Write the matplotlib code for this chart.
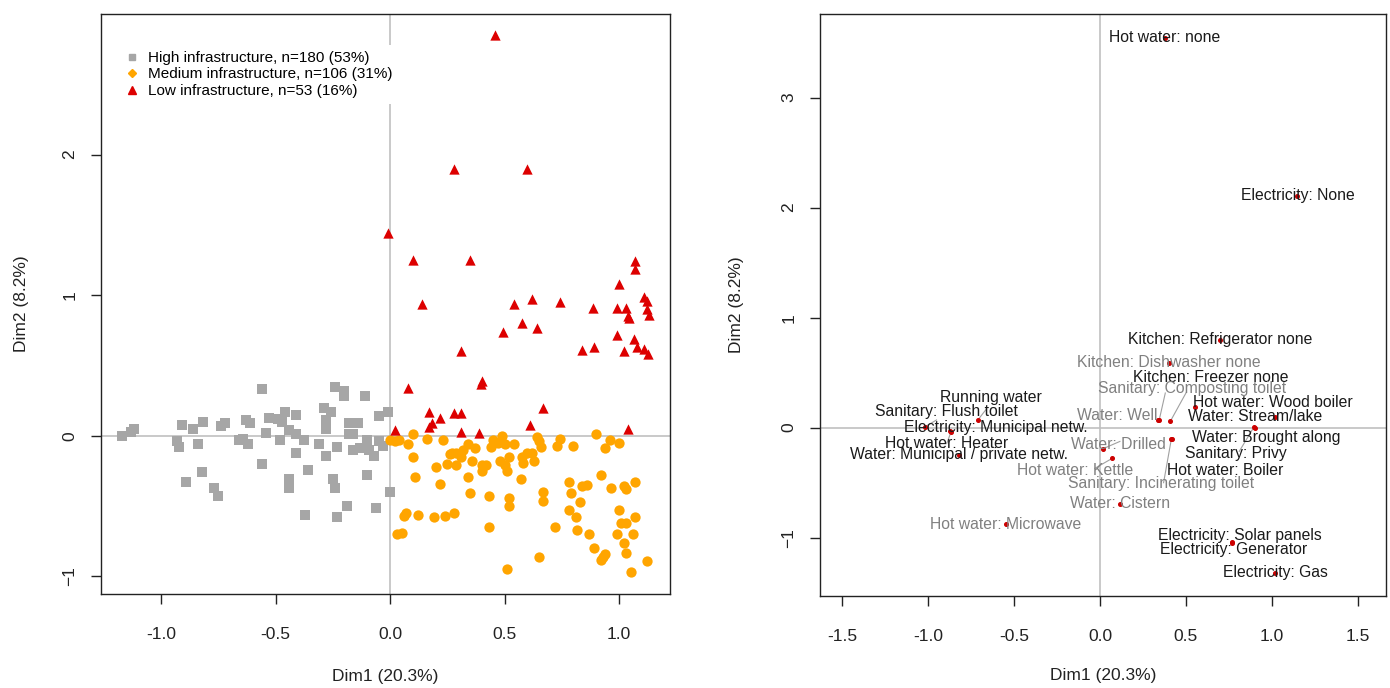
from matplotlib import pyplot as plt
from matplotlib.lines import Line2D
import numpy as np

plt.rcParams['font.family'] = ['Liberation Sans', 'DejaVu Sans']

#%%
# Individuos (panel izquierdo): coordenadas Dim1 / Dim2 por grupo
high_x = [-1.17, -1.12, -1.13, -0.91, -0.86, -0.815, -0.74, -0.72, -0.63, -0.61, -0.56,
          -0.93, -0.92, -0.84, -0.89, -0.82, -0.77, -0.75, -0.66, -0.64, -0.62, -0.56,
          -0.54, -0.53, -0.49, -0.46, -0.47, -0.48, -0.44, -0.41, -0.41, -0.375, -0.41,
          -0.44, -0.44, -0.36, -0.37, -0.31, -0.29, -0.26, -0.28, -0.28, -0.28, -0.24,
          -0.20, -0.20, -0.25, -0.24, -0.19, -0.23, -0.23, -0.18, -0.14, -0.18, -0.16,
          -0.11, -0.16, -0.13, -0.10, -0.09, -0.07, -0.05, -0.03, -0.10, -0.06, -0.05,
          -0.01, 0.00]
high_y = [0.00, 0.05, 0.03, 0.08, 0.05, 0.10, 0.07, 0.09, 0.11, 0.09, 0.33,
          -0.04, -0.08, -0.06, -0.33, -0.26, -0.37, -0.43, -0.03, -0.02, -0.06, -0.20,
          0.02, 0.13, 0.12, 0.17, 0.10, -0.03, 0.04, 0.15, 0.01, -0.03, -0.12,
          -0.31, -0.37, -0.24, -0.56, -0.06, 0.20, 0.17, 0.11, 0.05, -0.14, 0.35,
          0.32, 0.28, -0.31, -0.37, -0.50, -0.58, -0.08, 0.09, 0.09, 0.01, 0.01,
          0.28, -0.10, -0.09, -0.03, -0.10, -0.14, -0.04, -0.07, -0.28, -0.51, 0.14,
          0.17, -0.40]

med_x = [0.02, 0.00, 0.04, 0.08, 0.10, 0.16, 0.23, 0.10, 0.11, 0.20, 0.22, 0.25, 0.27,
         0.29, 0.31, 0.29, 0.32, 0.34, 0.37, 0.36, 0.34, 0.35, 0.40, 0.42, 0.40, 0.43,
         0.43, 0.45, 0.47, 0.49, 0.50, 0.48, 0.50, 0.51, 0.52, 0.54, 0.52, 0.52, 0.51,
         0.57, 0.575, 0.58, 0.60, 0.62, 0.63, 0.64, 0.65, 0.66, 0.67, 0.67, 0.65, 0.72,
         0.73, 0.74, 0.80, 0.78, 0.79, 0.83, 0.78, 0.81, 0.815, 0.84, 0.86, 0.87, 0.89,
         0.92, 0.93, 0.94, 0.90, 0.92, 0.96, 0.94, 0.965, 1.00, 0.99, 1.00, 1.01, 1.03,
         1.02, 1.03, 1.07, 1.07, 1.06, 1.02, 1.03, 1.05, 1.12, 0.03, 0.05, 0.06, 0.07,
         0.12, 0.19, 0.24, 0.28, 0.26, 0.44]
med_y = [-0.04, -0.03, -0.03, -0.06, 0.01, -0.02, -0.03, -0.15, -0.29, -0.22, -0.34, -0.20, -0.12,
         -0.12, -0.15, -0.21, -0.10, -0.06, -0.09, -0.18, -0.29, -0.41, -0.21, -0.21, -0.25, -0.43,
         -0.65, -0.03, -0.05, 0.00, -0.06, -0.18, -0.21, -0.25, -0.15, -0.06, -0.44, -0.50, -0.95,
         -0.31, -0.15, -0.19, -0.12, -0.12, -0.18, -0.01, -0.04, -0.08, -0.40, -0.46, -0.86, -0.65,
         -0.07, -0.02, -0.07, -0.33, -0.41, -0.47, -0.53, -0.58, -0.67, -0.36, -0.35, -0.70, -0.80,
         -0.88, -0.86, -0.84, 0.01, -0.28, -0.03, -0.09, -0.37, -0.05, -0.70, -0.53, -0.62, -0.62,
         -0.36, -0.38, -0.33, -0.58, -0.70, -0.76, -0.83, -0.97, -0.89, -0.70, -0.69, -0.57, -0.55,
         -0.56, -0.58, -0.57, -0.55, -0.13, -0.08]

low_x = [0.46, 0.28, 0.60, -0.01, 0.10, 0.35, 0.14, 0.54, 0.62, 0.74, 0.885, 0.99, 1.03,
         1.04, 1.045, 1.00, 1.07, 1.07, 1.11, 1.12, 1.12, 1.13, 0.495, 0.575, 0.64, 0.99,
         1.065, 1.08, 1.11, 1.125, 0.84, 0.89, 1.02, 0.31, 0.40, 0.395, 0.08, 0.17, 0.185,
         0.17, 0.22, 0.28, 0.31, 0.67, 0.61, 0.31, 0.39, 0.02, 1.04]
low_y = [2.85, 1.90, 1.90, 1.44, 1.25, 1.25, 0.94, 0.94, 0.97, 0.95, 0.91, 0.91, 0.91,
         0.85, 0.84, 1.08, 1.24, 1.19, 0.99, 0.96, 0.90, 0.86, 0.74, 0.80, 0.77, 0.72,
         0.69, 0.63, 0.62, 0.58, 0.61, 0.63, 0.60, 0.60, 0.39, 0.37, 0.34, 0.17, 0.09,
         0.06, 0.13, 0.16, 0.16, 0.20, 0.08, 0.03, 0.02, 0.04, 0.05]

legend_labels = ["High infrastructure, n=180 (53%)",
                 "Medium infrastructure, n=106 (31%)",
                 "Low infrastructure, n=53 (16%)"]

#%%
# Categorías (panel derecho)
cats = ["Hot water: none", "Electricity: None", "Kitchen: Refrigerator none",
        "Kitchen: Dishwasher none", "Kitchen: Freezer none", "Sanitary: Composting toilet",
        "Hot water: Wood boiler", "Water: Well", "Water: Stream/lake",
        "Water: Brought along", "Sanitary: Privy", "Hot water: Boiler",
        "Sanitary: Incinerating toilet", "Water: Drilled", "Hot water: Kettle",
        "Water: Cistern", "Hot water: Microwave", "Electricity: Solar panels",
        "Electricity: Generator", "Electricity: Gas", "Running water",
        "Sanitary: Flush toilet", "Electricity: Municipal netw.", "Hot water: Heater",
        "Water: Municipal / private netw."]
cat_x = [0.378, 1.148, 0.70, 0.40, 0.41, 0.345, 0.55, 0.34, 1.02, 0.90, 0.895, 0.42,
         0.415, 0.02, 0.07, 0.116, -0.547, 0.77, 0.765, 1.02, -0.71, -1.02, -0.87,
         -0.865, -0.82]
cat_y = [3.545, 2.11, 0.80, 0.59, 0.06, 0.073, 0.19, 0.07, 0.10, 0.00, 0.005, -0.10,
         -0.105, -0.19, -0.28, -0.69, -0.88, -1.04, -1.045, -1.32, 0.07, 0.006, -0.03,
         -0.035, -0.245]
# categorías mal representadas (etiqueta en gris)
faded = ["Kitchen: Dishwasher none", "Sanitary: Composting toilet", "Water: Well",
         "Sanitary: Incinerating toilet", "Water: Drilled", "Hot water: Kettle",
         "Water: Cistern", "Hot water: Microwave"]

# ubicación de las etiquetas (centro del texto) y de las líneas guía
label_pos = {
    "Hot water: none": (0.378, 3.545), "Electricity: None": (1.148, 2.11),
    "Kitchen: Refrigerator none": (0.70, 0.80), "Kitchen: Dishwasher none": (0.40, 0.59),
    "Kitchen: Freezer none": (0.645, 0.46), "Sanitary: Composting toilet": (0.535, 0.36),
    "Hot water: Wood boiler": (1.006, 0.23), "Water: Well": (0.10, 0.11),
    "Water: Stream/lake": (0.90, 0.10), "Water: Brought along": (0.965, -0.09),
    "Sanitary: Privy": (0.79, -0.235), "Hot water: Boiler": (0.73, -0.39),
    "Sanitary: Incinerating toilet": (0.355, -0.51), "Water: Drilled": (0.11, -0.155),
    "Hot water: Kettle": (-0.145, -0.39), "Water: Cistern": (0.116, -0.69),
    "Hot water: Microwave": (-0.547, -0.88), "Electricity: Solar panels": (0.815, -0.98),
    "Electricity: Generator": (0.78, -1.11), "Electricity: Gas": (1.02, -1.32),
    "Running water": (-0.634, 0.27), "Sanitary: Flush toilet": (-0.895, 0.145),
    "Electricity: Municipal netw.": (-0.608, 0.0), "Hot water: Heater": (-0.89, -0.14),
    "Water: Municipal / private netw.": (-0.82, -0.245),
}
leader_end = {
    "Kitchen: Freezer none": (0.50, 0.315), "Sanitary: Composting toilet": (0.38, 0.315),
    "Sanitary: Incinerating toilet": (0.37, -0.50), "Water: Drilled": (0.116, -0.125),
    "Hot water: Kettle": (-0.03, -0.37), "Sanitary: Privy": (0.81, -0.215),
    "Running water": (-0.66, 0.17), "Sanitary: Flush toilet": (-0.95, 0.07),
    "Hot water: Heater": (-0.89, -0.14),
}

#%%
fig = plt.figure(figsize=(13.9, 6.88), dpi=100)
ax1 = fig.add_axes([0.0727, 0.1366, 0.4094, 0.843])
ax2 = fig.add_axes([0.5899, 0.1337, 0.4072, 0.846])

gris, naranja, rojo = '#a6a6a6', '#ffa500', '#dd0000'

# --- panel izquierdo: individuos
ax1.axhline(0, color='#c0c0c0', lw=1.2, zorder=0)
ax1.axvline(0, color='#c0c0c0', lw=1.2, zorder=0)
ax1.scatter(high_x, high_y, marker='s', s=48, color=gris, linewidths=0, zorder=2)
ax1.scatter(med_x, med_y, marker='o', s=55, color=naranja, linewidths=0, zorder=3)
ax1.scatter(low_x, low_y, marker='^', s=55, color=rojo, linewidths=0, zorder=4)

handles = [Line2D([], [], marker='s', color=gris, ls='none', markersize=5),
           Line2D([], [], marker='D', color=naranja, ls='none', markersize=4.5),
           Line2D([], [], marker='^', color=rojo, ls='none', markersize=5.5)]
leg = ax1.legend(handles, legend_labels, loc='upper left', bbox_to_anchor=(0.014, 0.96),
                 fontsize=11, frameon=True, facecolor='white', edgecolor='none',
                 framealpha=1, labelspacing=0.16, handletextpad=0.45, handlelength=1.2,
                 borderpad=0.4, fancybox=False)
leg.set_zorder(5)

ax1.set_xlim(-1.262, 1.223)
ax1.set_ylim(-1.125, 3.0)
ax1.set_xticks([-1.0, -0.5, 0.0, 0.5, 1.0])
ax1.set_xticklabels(['-1.0', '-0.5', '0.0', '0.5', '1.0'])
ax1.set_yticks([-1, 0, 1, 2])
ax1.set_xlabel('Dim1 (20.3%)', fontsize=12.5, labelpad=19, color='#222222')
ax1.set_ylabel('Dim2 (8.2%)', fontsize=12.5, labelpad=24, color='#222222')

# --- panel derecho: categorías
ax2.axhline(0, color='#c0c0c0', lw=1.2, zorder=0)
ax2.axvline(0, color='#c0c0c0', lw=1.2, zorder=0)
for c, x, y in zip(cats, cat_x, cat_y):
    if c in leader_end:
        ex, ey = leader_end[c]
        ax2.plot([x, ex], [y, ey], color='#a0a0a0', lw=0.8, zorder=1)
ax2.plot(cat_x, cat_y, 'o', color='#cc0000', markersize=2.6, zorder=2)
for c in cats:
    lx, ly = label_pos[c]
    col = '#808080' if c in faded else '#1a1a1a'
    ax2.text(lx, ly, c, fontsize=11.3, color=col, ha='center', va='center', zorder=3)

ax2.set_xlim(-1.628, 1.663)
ax2.set_ylim(-1.53, 3.76)
ax2.set_xticks([-1.5, -1.0, -0.5, 0.0, 0.5, 1.0, 1.5])
ax2.set_xticklabels(['-1.5', '-1.0', '-0.5', '0.0', '0.5', '1.0', '1.5'])
ax2.set_yticks([-1, 0, 1, 2, 3])
ax2.set_xlabel('Dim1 (20.3%)', fontsize=12.5, labelpad=17, color='#222222')
ax2.set_ylabel('Dim2 (8.2%)', fontsize=12.5, labelpad=27, color='#222222')

# estilo tipo R: caja completa, ticks hacia afuera, etiquetas del eje y giradas
for ax in (ax1, ax2):
    for sp in ax.spines.values():
        sp.set_linewidth(1.0)
        sp.set_color('#222222')
    ax.tick_params(direction='out', length=7, width=1.0, labelsize=12.5,
                   colors='#222222')
    ax.tick_params(axis='x', pad=17)
    ax.tick_params(axis='y', pad=10)
    for lab in ax.get_yticklabels():
        lab.set_rotation(90)
        lab.set_va('center')

fig.savefig('out.png', dpi=100)
